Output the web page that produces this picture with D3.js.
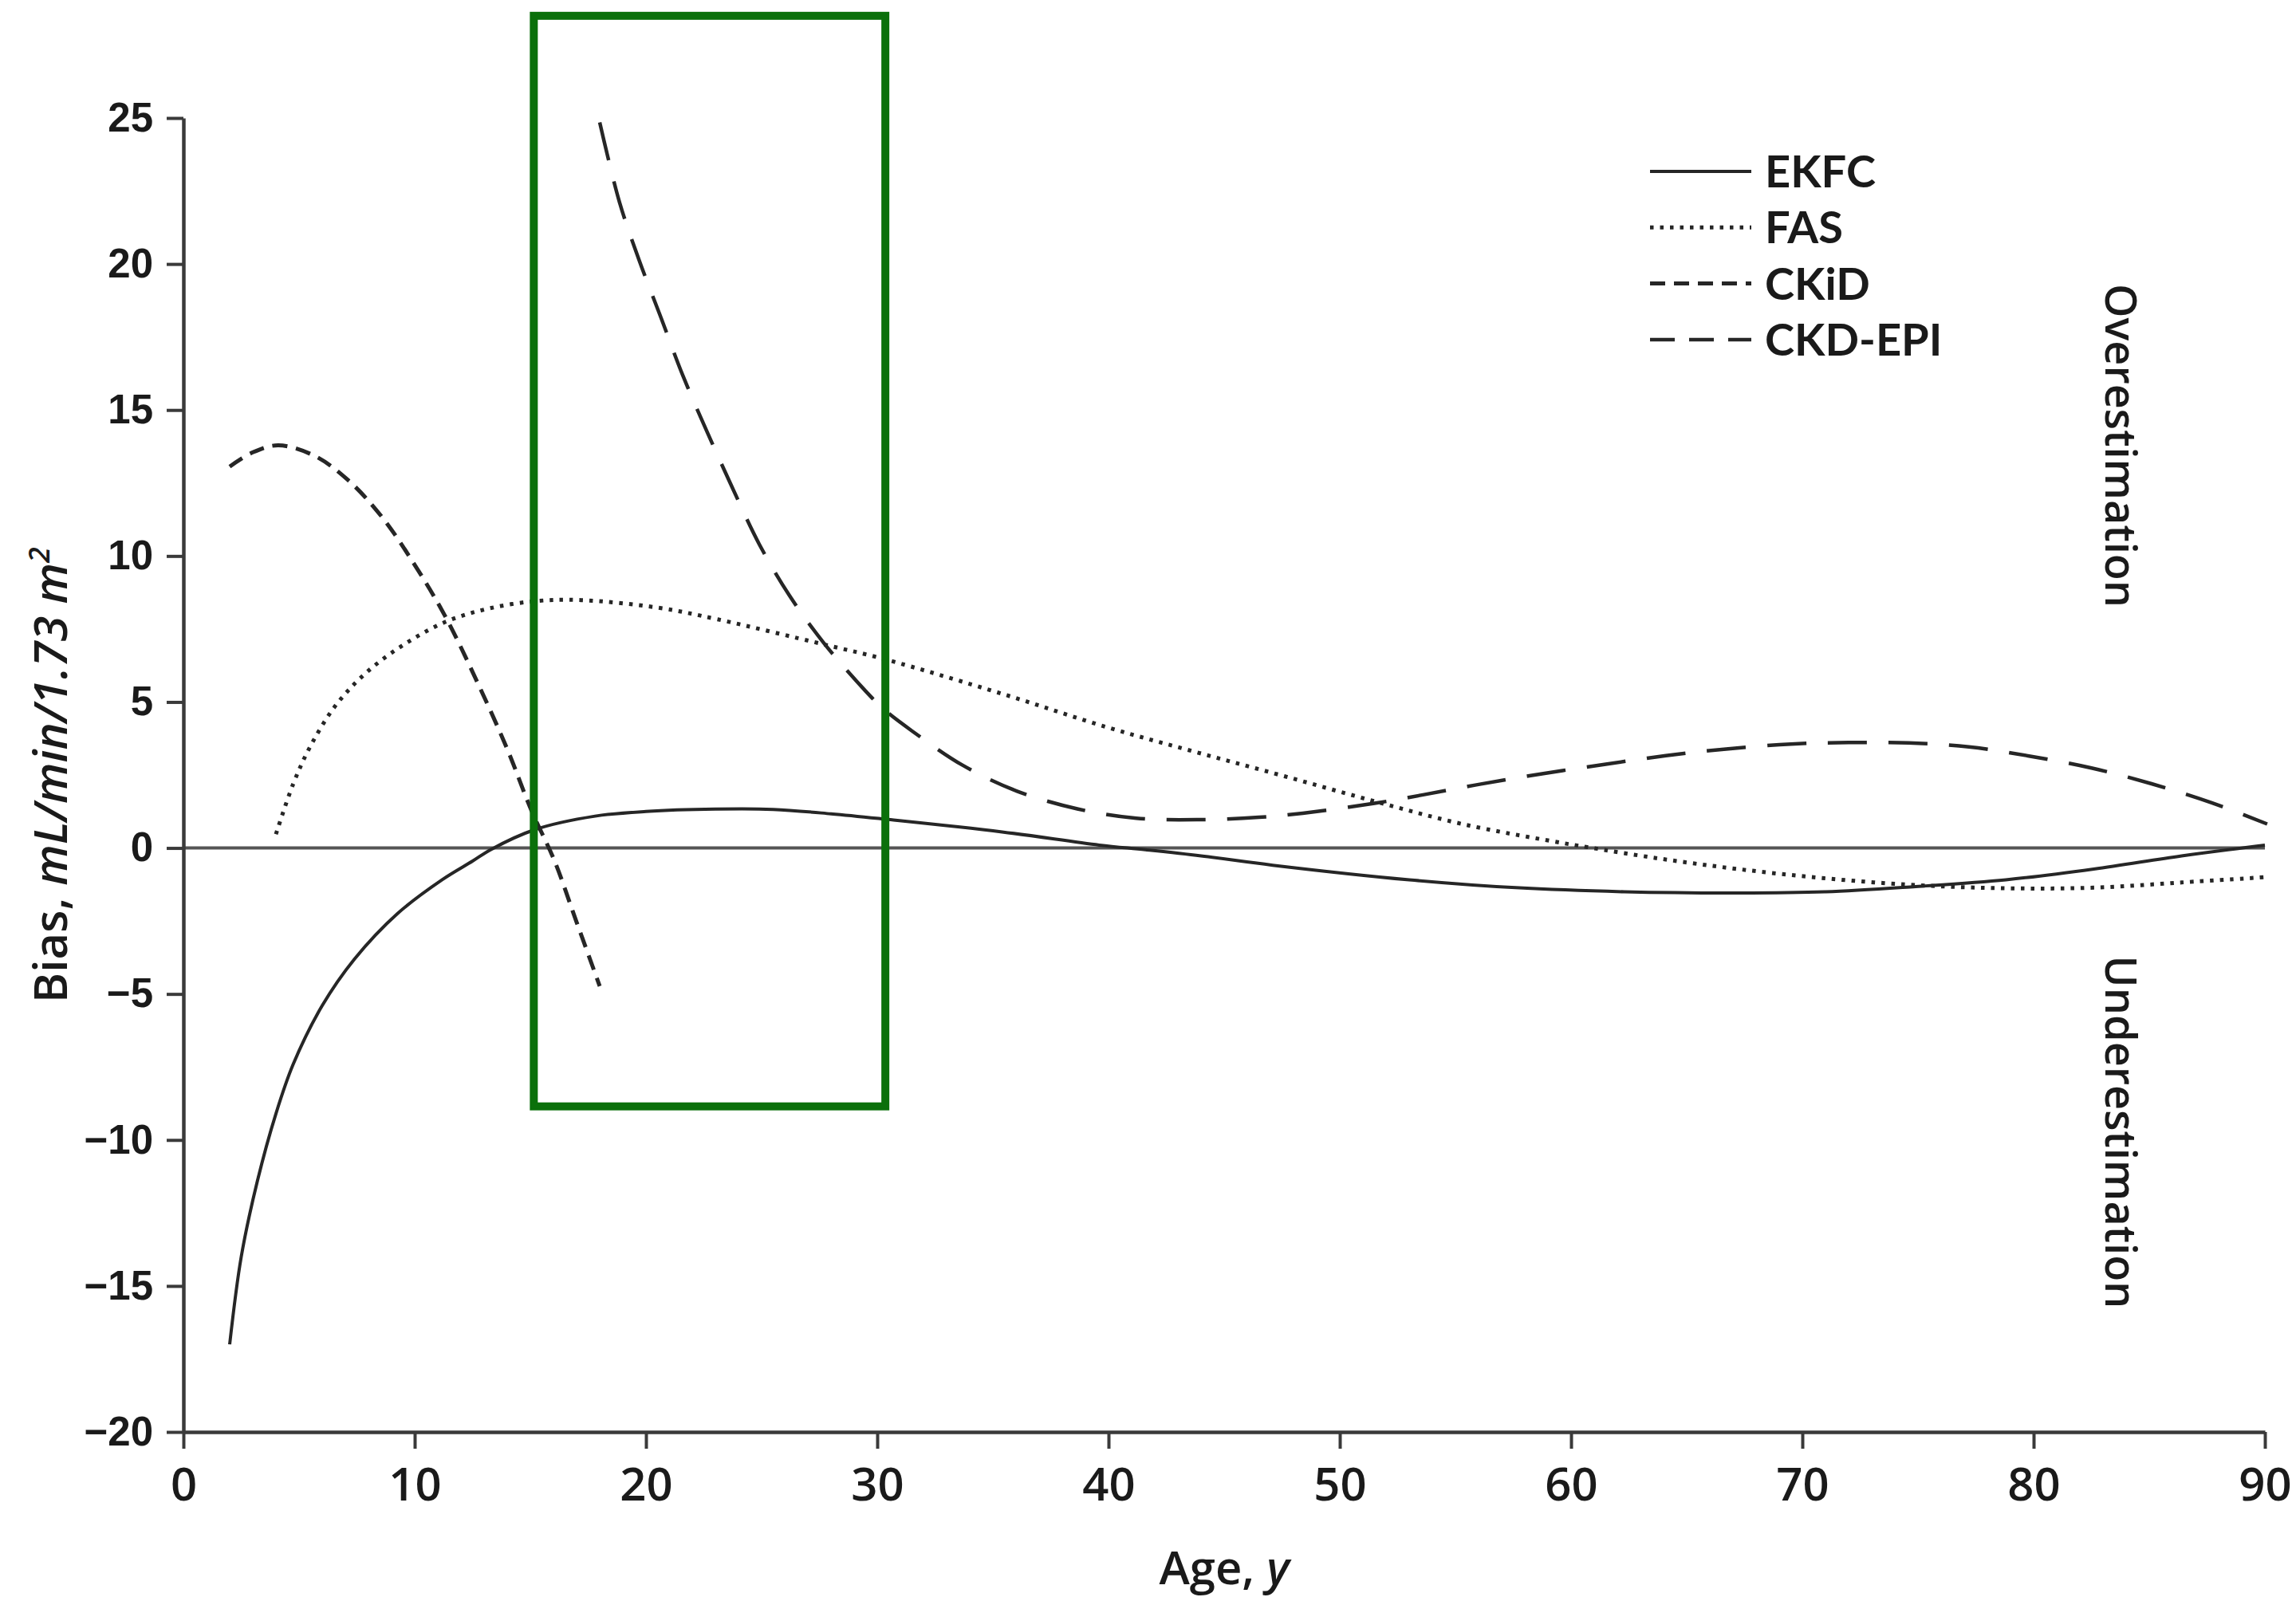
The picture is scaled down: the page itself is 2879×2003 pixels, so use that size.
<!DOCTYPE html>
<html>
<head>
<meta charset="utf-8">
<script src="https://cdn.jsdelivr.net/npm/d3@7/dist/d3.min.js"></script>
<style>
  html, body { margin: 0; padding: 0; background: #ffffff; }
  svg { display: block; }
</style>
</head>
<body>
<svg id="chart" width="2879" height="2003"></svg>
<script>
// Axis ticks
const xTicks = [0, 10, 20, 30, 40, 50, 60, 70, 80, 90];
const yTicks = [-20, -15, -10, -5, 0, 5, 10, 15, 20, 25];

// Mean bias (mL/min/1.73 m²) by age, one array of [age, bias] per equation
const ekfc = [
  [2, -17.0], [2.5, -14.0], [3.2, -11.4], [4, -9.1], [4.75, -7.4], [6, -5.4],
  [7.4, -3.8], [9.25, -2.25], [11.2, -1.08], [12.5, -0.45], [13.3, -0.05],
  [15.2, 0.63], [17.8, 1.09], [20, 1.25], [23, 1.33], [25.5, 1.32], [28, 1.17],
  [30.3, 0.99], [35.4, 0.55], [39.6, 0.1], [41.6, -0.06], [44, -0.27],
  [47.1, -0.59], [53, -1.09], [57.6, -1.36], [62.3, -1.5], [67.2, -1.54],
  [71, -1.5], [74.9, -1.32], [78.8, -1.09], [82.6, -0.72], [86.4, -0.27], [90, 0.1]
];
const fas = [
  [4, 0.47], [4.75, 2.2], [5.5, 3.5], [6.6, 4.9], [7.9, 6.0], [9.5, 6.95],
  [11.35, 7.75], [13.2, 8.2], [15.3, 8.46], [17.2, 8.49], [20.6, 8.22],
  [23.1, 7.83], [27.7, 6.97], [30.3, 6.47], [35.4, 5.28], [40, 4.12],
  [43.8, 3.28], [47.6, 2.46], [51.5, 1.6], [55.3, 0.82], [59.2, 0.23],
  [60.7, 0.03], [63.8, -0.36], [67.2, -0.72], [71, -1.04], [74.9, -1.27],
  [78.8, -1.38], [82.6, -1.36], [86.4, -1.18], [90, -1.0]
];
const ckid = [
  [2, 13.06], [3, 13.55], [4.1, 13.79], [5.67, 13.43], [7.13, 12.59],
  [8.58, 11.34], [10.03, 9.66], [11.35, 7.89], [12.7, 5.69], [14, 3.39],
  [15.04, 1.3], [16.05, -0.45], [17, -2.54], [18, -4.73]
];
const ckdEpi = [
  [18, 24.85], [18.85, 22.13], [19.7, 20.14], [20.65, 18.16], [21.6, 16.17],
  [22.65, 14.24], [23.7, 12.4], [24.9, 10.4], [26.2, 8.65], [27.7, 7.01],
  [29.5, 5.37], [30.3, 4.74], [31.5, 4.01], [33.7, 2.83], [36, 1.96],
  [38.65, 1.34], [41.2, 1.02], [43.9, 0.97], [46.5, 1.05], [48.4, 1.19],
  [51.5, 1.53], [53.6, 1.82], [56.1, 2.19], [58.8, 2.55], [61.5, 2.87],
  [64.1, 3.16], [66.7, 3.39], [69.5, 3.56], [72, 3.61], [74.6, 3.6],
  [77.2, 3.46], [79.8, 3.15], [82.5, 2.74], [85.1, 2.2], [87.7, 1.55], [90.1, 0.82]
];

const seriesNames = ["EKFC", "FAS", "CKiD", "CKD-EPI"];
const seriesData = [ekfc, fas, ckid, ckdEpi];

// Highlighted age band (age range, bias range)
const boxAge = [15.15, 30.35];
const boxBias = [-8.85, 28.5];

// ---- drawing ----
const svg = d3.select("#chart");
const plotLeft = 230, plotRight = 2840, plotTop = 148, plotBottom = 1796;

const x = d3.scaleLinear().domain([0, 90]).range([plotLeft, plotRight]);
const y = d3.scaleLinear().domain([-20, 25]).range([plotBottom, plotTop]);

const ink = "#262626";
const axisInk = "#3a3a3a";

const lineStyles = {
  "EKFC":    { dash: null,    width: 4 },
  "FAS":     { dash: "4.5,8", width: 5 },
  "CKiD":    { dash: "19,11", width: 5 },
  "CKD-EPI": { dash: "49,27", width: 4.5 }
};
const legendDash = { "EKFC": null, "FAS": "4.5,8", "CKiD": "19,11", "CKD-EPI": "31,18" };

// zero reference line
svg.append("line")
  .attr("x1", x(0)).attr("x2", x(90))
  .attr("y1", y(0)).attr("y2", y(0))
  .attr("stroke", "#555").attr("stroke-width", 4);

// y axis
const yAxis = svg.append("g")
  .attr("transform", `translate(${plotLeft},0)`)
  .call(d3.axisLeft(y).tickValues(yTicks).tickFormat(d3.format("d"))
        .tickSize(21).tickPadding(17).tickSizeOuter(0));
yAxis.select(".domain").attr("stroke", axisInk).attr("stroke-width", 4.5);
yAxis.selectAll(".tick line").attr("stroke", axisInk).attr("stroke-width", 4);
yAxis.selectAll(".tick text")
  .attr("fill", "#1a1a1a")
  .style("font-family", "'Liberation Sans', Arial, sans-serif")
  .style("font-weight", "700")
  .style("font-size", "51px");

// x axis
const xAxis = svg.append("g")
  .attr("transform", `translate(0,${plotBottom})`)
  .call(d3.axisBottom(x).tickValues(xTicks).tickFormat(d3.format("d"))
        .tickSize(21).tickPadding(24).tickSizeOuter(0));
xAxis.select(".domain").attr("stroke", axisInk).attr("stroke-width", 4.5);
xAxis.selectAll(".tick line").attr("stroke", axisInk).attr("stroke-width", 4);
xAxis.selectAll(".tick text")
  .attr("fill", "#1a1a1a")
  .style("font-family", "'Open Sans', sans-serif")
  .style("font-weight", "600")
  .style("font-size", "58px");

// series curves
const line = d3.line()
  .x(d => x(d[0]))
  .y(d => y(d[1]))
  .curve(d3.curveCatmullRom.alpha(0.5));

seriesNames.forEach((name, i) => {
  const st = lineStyles[name];
  svg.append("path")
    .datum(seriesData[i])
    .attr("d", line)
    .attr("fill", "none")
    .attr("stroke", ink)
    .attr("stroke-width", st.width)
    .attr("stroke-dasharray", st.dash);
});

// highlight box
svg.append("rect")
  .attr("x", x(boxAge[0]))
  .attr("y", y(boxBias[1]))
  .attr("width", x(boxAge[1]) - x(boxAge[0]))
  .attr("height", y(boxBias[0]) - y(boxBias[1]))
  .attr("fill", "none")
  .attr("stroke", "#0b700b")
  .attr("stroke-width", 10);

// legend
const legend = svg.append("g").attr("transform", "translate(2069,215)");
seriesNames.forEach((name, i) => {
  const g = legend.append("g").attr("transform", `translate(0,${i * 70.3})`);
  g.append("line")
    .attr("x1", 0).attr("x2", 127).attr("y1", 0).attr("y2", 0)
    .attr("stroke", ink)
    .attr("stroke-width", lineStyles[name].width)
    .attr("stroke-dasharray", legendDash[name]);
  g.append("text")
    .attr("x", 144).attr("y", 20)
    .attr("fill", "#1a1a1a")
    .style("font-family", "Lato, 'Open Sans', sans-serif")
    .style("font-weight", "700")
    .style("font-size", "56px")
    .text(name);
});

// axis titles
const titleFont = "'Open Sans', sans-serif";
const xTitle = svg.append("text")
  .attr("x", (plotLeft + plotRight) / 2).attr("y", 1987)
  .attr("text-anchor", "middle")
  .attr("fill", "#1a1a1a")
  .style("font-family", titleFont).style("font-weight", "600").style("font-size", "58px");
xTitle.append("tspan").text("Age, ");
xTitle.append("tspan").style("font-style", "italic").text("y");

const yTitle = svg.append("text")
  .attr("transform", `translate(84,${(plotTop + plotBottom) / 2}) rotate(-90)`)
  .attr("text-anchor", "middle")
  .attr("fill", "#1a1a1a")
  .style("font-family", titleFont).style("font-weight", "600").style("font-size", "58px");
yTitle.append("tspan").text("Bias, ");
yTitle.append("tspan").style("font-style", "italic").text("mL/min/1.73 m");
yTitle.append("tspan").style("font-style", "italic").style("font-size", "36px")
  .attr("dy", "-22").text("2");

// direction labels on the right
[["Overestimation", 559], ["Underestimation", 1420]].forEach(([label, cy]) => {
  svg.append("text")
    .attr("transform", `translate(2640,${cy}) rotate(90)`)
    .attr("text-anchor", "middle")
    .attr("fill", "#1a1a1a")
    .style("font-family", titleFont).style("font-weight", "600").style("font-size", "54px")
    .text(label);
});
</script>
</body>
</html>
